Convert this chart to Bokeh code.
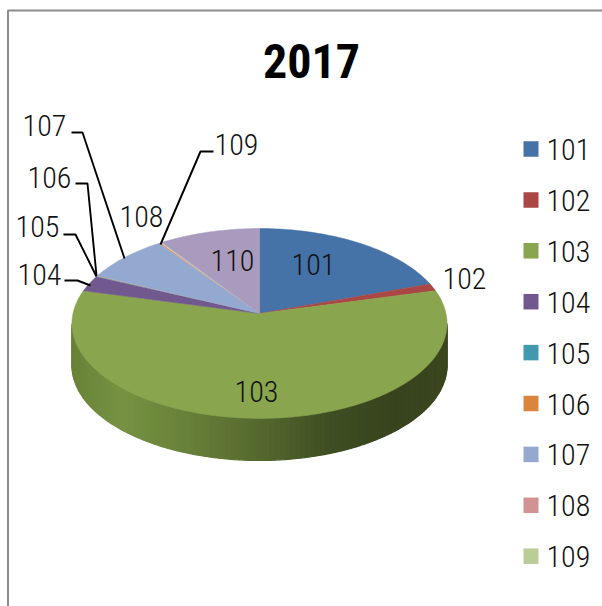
import numpy as np
from bokeh.plotting import figure
from bokeh.core.properties import value
from bokeh.embed import file_html
from bokeh.resources import INLINE

title = "2017"
categories = ["101", "102", "103", "104", "105", "106", "107", "108", "109", "110"]
shares = [19.7, 1.25, 57.9, 2.7, 0.1, 0.1, 8.1, 0.2, 0.15, 9.6]
colors = ["#4572A7", "#AA4643", "#89A54E", "#71588F", "#4198AF", "#DB843D",
          "#93A9CF", "#D19392", "#B9CD96", "#A99BBD"]
legend_items = categories[:9]
label_x = [313, 464, 256, 39, 37, 49, 44, 141, 236, 232]
label_y = [264, 278, 391, 274, 226, 177, 125, 216, 144, 260]
leader_x = [[64, 77, 90], [63, 75, 96], [75, 87, 96], [71, 82, 124], [213, 200, 160]]
leader_y = [[280, 280, 285], [234, 234, 276], [183, 183, 275], [132, 132, 258], [151, 151, 244]]
side_stops_x = [71, 120, 180, 260, 330, 390, 446]
side_stops_c = [(104, 130, 56), (118, 146, 66), (106, 130, 58), (84, 104, 46), (62, 78, 34), (56, 68, 30), (58, 70, 30)]

FONT = "Roboto Condensed Light, Roboto Condensed, Liberation Sans Narrow, Arial Narrow, Roboto"
TITLE_FONT = "Roboto Condensed, Liberation Sans Narrow, Arial Narrow, Roboto"
CX, CY = 259.0, 313.0
A, B, W = 93.9, 0.105, 186.5
DEPTH = 42.0


def project(phi):
    u, v = np.sin(phi), np.cos(phi)
    d = 1 + B * v
    return CX + W * u / d, CY - A * v / d


p = figure(width=602, height=606, x_range=(0, 602), y_range=(606, 0),
           toolbar_location=None, output_backend="svg", min_border=0,
           outline_line_color=None)
p.xaxis.visible = False
p.yaxis.visible = False
p.xgrid.visible = False
p.ygrid.visible = False

# frame
p.line([7.5, 7.5, 602], [606, 10, 10], line_color="#8C8C8C", line_width=2)

# side wall, drawn as thin strips along the front rim
start = np.arccos(-B)
end = 2 * np.pi - start
edges = np.linspace(start, end, 121)
sx, sy, sc = [], [], []
for a, b in zip(edges[:-1], edges[1:]):
    xa, ya = project(a)
    xb, yb = project(b)
    sx.append([xa, xb, xb, xa])
    sy.append([ya, yb, yb + DEPTH, ya + DEPTH])
    mid = (xa + xb) / 2
    rgb = [np.interp(mid, side_stops_x, [c[i] for c in side_stops_c]) for i in range(3)]
    sc.append("#%02x%02x%02x" % tuple(int(round(x)) for x in rgb))
p.patches(sx, sy, fill_color=sc, line_color=sc, line_width=1.2)

# top face
arr = np.array(shares, dtype=float)
cum = np.concatenate([[0], np.cumsum(arr)]) / arr.sum() * 2 * np.pi
xs, ys = [], []
for a, b in zip(cum[:-1], cum[1:]):
    t = np.linspace(a, b, max(3, int((b - a) * 60)))
    x, y = project(t)
    xs.append([CX] + list(x))
    ys.append([CY] + list(y))
p.patches(xs, ys, fill_color=colors, line_color=colors,
          line_width=[0.5 if s >= 1 else 0 for s in shares])

# leader lines
p.multi_line(leader_x, leader_y, line_color="black", line_width=1.9)

# slice labels
p.text(label_x, label_y, text=categories, text_font=value(FONT), text_font_size="30px",
       text_align="center", text_baseline="middle", text_color="#111111")

# title
p.text([311], [60], text=[title], text_font=value(TITLE_FONT), text_font_size="48px",
       text_font_style="bold", text_align="center", text_baseline="middle", text_color="black")

# legend
lx = [530.5] * len(legend_items)
swatch_y = [148.5 + i * 50.9 for i in range(len(legend_items))]
text_y = [149 + i * 50.9 for i in range(len(legend_items))]
p.rect(lx, swatch_y, width=15, height=15.5, fill_color=colors[:9], line_color=None)
p.text([546] * len(legend_items), text_y, text=legend_items, text_font=value(FONT), text_font_size="30px",
       text_align="left", text_baseline="middle", text_color="#111111")

open("out.html", "w").write(file_html(p, INLINE))
